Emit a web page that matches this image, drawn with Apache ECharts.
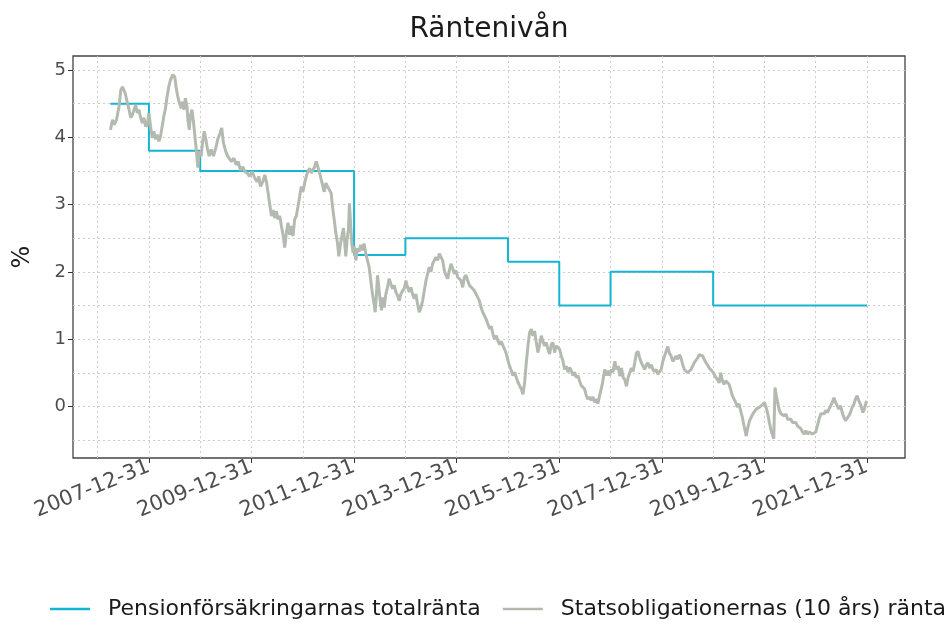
<!DOCTYPE html>
<html>
<head>
<meta charset="utf-8">
<title>Räntenivån</title>
<script src="https://cdn.jsdelivr.net/npm/echarts@6/dist/echarts.min.js"></script>
<style>
  html, body { margin: 0; padding: 0; background: #fff; }
  #chart { width: 948px; height: 626px; }
</style>
</head>
<body>
<div id="chart"></div>
<script>
// x values are decimal years (2008 = 2007-12-31)
// Pensionförsäkringarnas totalränta: the level holds from each date until the next one
const pensionYears = [2007.25, 2008, 2009, 2012, 2013, 2015, 2016, 2017, 2019, 2022];
const pensionRates = [4.5, 3.8, 3.5, 2.25, 2.5, 2.15, 1.5, 2.0, 1.5, 1.5];

// Statsobligationernas (10 års) ränta
const bondYears = [
  2007.25, 2007.29, 2007.323, 2007.368, 2007.419, 2007.452, 2007.484, 2007.535, 2007.581, 2007.613,
  2007.645, 2007.677, 2007.71, 2007.742, 2007.774, 2007.806, 2007.839, 2007.871, 2007.903, 2007.935,
  2007.968, 2008.0, 2008.032, 2008.065, 2008.097, 2008.129, 2008.161, 2008.194, 2008.226, 2008.258,
  2008.29, 2008.323, 2008.355, 2008.387, 2008.419, 2008.465, 2008.503, 2008.529, 2008.561, 2008.594,
  2008.632, 2008.658, 2008.684, 2008.71, 2008.742, 2008.761, 2008.787, 2008.806, 2008.839, 2008.871,
  2008.903, 2008.935, 2008.955, 2008.981, 2009.019, 2009.045, 2009.077, 2009.11, 2009.142, 2009.174,
  2009.213, 2009.258, 2009.303, 2009.342, 2009.387, 2009.419, 2009.452, 2009.497, 2009.535, 2009.581,
  2009.612, 2009.657, 2009.702, 2009.741, 2009.786, 2009.832, 2009.871, 2009.916, 2009.961, 2010.013,
  2010.065, 2010.11, 2010.142, 2010.175, 2010.22, 2010.259, 2010.291, 2010.324, 2010.356, 2010.388,
  2010.421, 2010.453, 2010.485, 2010.518, 2010.55, 2010.583, 2010.615, 2010.647, 2010.68, 2010.712,
  2010.744, 2010.777, 2010.809, 2010.841, 2010.874, 2010.906, 2010.939, 2010.971, 2011.003, 2011.036,
  2011.068, 2011.1, 2011.133, 2011.165, 2011.197, 2011.23, 2011.262, 2011.294, 2011.327, 2011.359,
  2011.392, 2011.417, 2011.45, 2011.482, 2011.515, 2011.553, 2011.579, 2011.612, 2011.644, 2011.676,
  2011.702, 2011.728, 2011.761, 2011.793, 2011.812, 2011.838, 2011.864, 2011.89, 2011.909, 2011.935,
  2011.955, 2011.981, 2012.0,
  2012.033, 2012.065, 2012.098, 2012.13, 2012.163, 2012.195, 2012.228, 2012.261, 2012.293, 2012.326,
  2012.358, 2012.391, 2012.41, 2012.436, 2012.456, 2012.482, 2012.508, 2012.534, 2012.56, 2012.586,
  2012.619, 2012.651, 2012.684, 2012.717, 2012.749, 2012.782, 2012.814, 2012.847, 2012.879, 2012.912,
  2012.945, 2012.977, 2013.01, 2013.042, 2013.075, 2013.107, 2013.14, 2013.173, 2013.205, 2013.238,
  2013.27, 2013.303, 2013.336, 2013.368, 2013.401, 2013.433, 2013.466, 2013.498, 2013.531, 2013.564,
  2013.596, 2013.629, 2013.661, 2013.694, 2013.726, 2013.759, 2013.792, 2013.824, 2013.857, 2013.889,
  2013.922, 2013.954, 2013.987, 2014.02, 2014.052, 2014.085, 2014.117, 2014.15, 2014.182, 2014.215,
  2014.248, 2014.28, 2014.313, 2014.345, 2014.378, 2014.41, 2014.443, 2014.476, 2014.508, 2014.541,
  2014.578, 2014.61, 2014.643, 2014.675, 2014.708, 2014.74, 2014.773, 2014.805, 2014.838, 2014.87,
  2014.903, 2014.935, 2014.968, 2015.0, 2015.032, 2015.065, 2015.097, 2015.13, 2015.162, 2015.195,
  2015.227, 2015.26, 2015.292, 2015.325, 2015.357, 2015.39, 2015.422, 2015.455, 2015.487, 2015.519,
  2015.552, 2015.584, 2015.617, 2015.649, 2015.682, 2015.714, 2015.747, 2015.779, 2015.812, 2015.844,
  2015.877, 2015.909, 2015.942, 2015.974, 2016.006, 2016.039, 2016.071, 2016.104, 2016.136, 2016.169,
  2016.201, 2016.234, 2016.266, 2016.299, 2016.331, 2016.364, 2016.396, 2016.429, 2016.461, 2016.494,
  2016.526, 2016.558, 2016.591, 2016.623, 2016.656, 2016.688, 2016.721, 2016.753, 2016.786, 2016.818,
  2016.851, 2016.883, 2016.916, 2016.948, 2016.981, 2017.013, 2017.045,
  2017.084, 2017.116, 2017.148, 2017.181, 2017.213, 2017.245, 2017.277, 2017.31, 2017.342, 2017.374,
  2017.406, 2017.439, 2017.471, 2017.503, 2017.535, 2017.568, 2017.6, 2017.632, 2017.665, 2017.697,
  2017.729, 2017.761, 2017.794, 2017.826, 2017.858, 2017.89, 2017.923, 2017.955, 2017.987, 2018.019,
  2018.052, 2018.084, 2018.116, 2018.148, 2018.181, 2018.213, 2018.245, 2018.277, 2018.31, 2018.342,
  2018.374, 2018.406, 2018.439, 2018.471, 2018.503, 2018.535, 2018.568, 2018.6, 2018.632, 2018.665,
  2018.697, 2018.729, 2018.761, 2018.794, 2018.826, 2018.858, 2018.89, 2018.923, 2018.955, 2018.987,
  2019.019, 2019.052, 2019.084, 2019.116, 2019.148, 2019.181, 2019.213, 2019.245, 2019.277, 2019.31,
  2019.342, 2019.374, 2019.406, 2019.439, 2019.471, 2019.503, 2019.535, 2019.568, 2019.6, 2019.645,
  2019.677, 2019.71, 2019.742, 2019.774, 2019.806, 2019.839, 2019.871, 2019.903, 2019.935, 2019.968,
  2020.0, 2020.032, 2020.065, 2020.097, 2020.129, 2020.161, 2020.181, 2020.206, 2020.232, 2020.258,
  2020.29, 2020.323, 2020.355, 2020.387, 2020.419, 2020.452, 2020.484, 2020.516, 2020.548, 2020.581,
  2020.613, 2020.645, 2020.677, 2020.71, 2020.742, 2020.774, 2020.806, 2020.839, 2020.871, 2020.903,
  2020.935, 2020.968, 2021.0, 2021.032, 2021.065, 2021.097, 2021.129, 2021.161, 2021.194, 2021.226,
  2021.258, 2021.29, 2021.323, 2021.355, 2021.387, 2021.419, 2021.452, 2021.484, 2021.516, 2021.548,
  2021.581, 2021.613, 2021.645, 2021.677, 2021.71, 2021.742, 2021.774, 2021.806, 2021.826, 2021.852,
  2021.884, 2021.916, 2021.948, 2021.981, 2022.0
];
const bondRates = [
  4.11, 4.26, 4.19, 4.26, 4.46, 4.70, 4.75, 4.66, 4.51, 4.41,
  4.29, 4.33, 4.41, 4.48, 4.36, 4.41, 4.29, 4.21, 4.29, 4.16,
  4.19, 4.36, 4.16, 3.99, 4.09, 3.97, 4.04, 3.94, 4.01, 4.16,
  4.31, 4.43, 4.61, 4.75, 4.85, 4.93, 4.90, 4.75, 4.61, 4.51,
  4.43, 4.53, 4.41, 4.58, 4.46, 4.26, 4.11, 4.31, 4.41, 4.21,
  3.97, 3.72, 3.55, 3.79, 3.72, 3.92, 4.09, 3.97, 3.82, 3.72,
  3.82, 3.72, 3.84, 3.97, 4.06, 4.14, 3.92, 3.79, 3.72, 3.67,
  3.64, 3.69, 3.59, 3.64, 3.51, 3.56, 3.49, 3.47, 3.42, 3.49,
  3.39, 3.34, 3.42, 3.27, 3.34, 3.44, 3.34, 3.17, 3.00, 2.83,
  2.92, 2.80, 2.90, 2.78, 2.83, 2.68, 2.55, 2.36, 2.58, 2.73,
  2.55, 2.68, 2.53, 2.78, 2.83, 2.97, 3.12, 3.27, 3.19, 3.32,
  3.42, 3.49, 3.54, 3.47, 3.51, 3.56, 3.64, 3.56, 3.47, 3.37,
  3.27, 3.19, 3.32, 3.27, 3.29, 3.17, 2.97, 2.78, 2.58, 2.43,
  2.23, 2.38, 2.53, 2.65, 2.48, 2.23, 2.48, 2.63, 3.02, 2.68,
  2.43, 2.28, 2.38,
  2.17, 2.35, 2.30, 2.40, 2.32, 2.42, 2.27, 2.17, 2.07, 1.87,
  1.67, 1.52, 1.40, 1.67, 1.95, 1.77, 1.57, 1.43, 1.62, 1.47,
  1.67, 1.77, 1.90, 1.82, 1.75, 1.80, 1.70, 1.65, 1.57, 1.67,
  1.72, 1.75, 1.87, 1.77, 1.70, 1.77, 1.67, 1.60, 1.67, 1.52,
  1.40, 1.47, 1.57, 1.72, 1.87, 1.97, 2.07, 2.00, 2.12, 2.17,
  2.22, 2.17, 2.27, 2.25, 2.17, 2.02, 1.95, 1.90, 2.02, 2.12,
  2.05, 1.97, 2.02, 1.92, 1.90, 1.87, 1.77, 1.92, 1.95, 1.87,
  1.80, 1.82, 1.75, 1.72, 1.67, 1.62, 1.57, 1.47, 1.40, 1.35,
  1.29, 1.22, 1.15, 1.19, 1.07, 1.00, 1.05, 0.97, 0.92, 0.97,
  0.90, 0.85, 0.78, 0.68, 0.60, 0.53, 0.46, 0.51, 0.43, 0.36,
  0.31, 0.26, 0.18, 0.36, 0.65, 0.90, 1.10, 1.15, 1.05, 1.12,
  0.95, 0.80, 0.92, 1.05, 0.97, 0.90, 0.95, 0.85, 0.78, 0.92,
  0.95, 0.80, 0.90, 0.92, 0.85, 0.75, 0.68, 0.55, 0.60, 0.51,
  0.58, 0.53, 0.46, 0.51, 0.43, 0.46, 0.38, 0.31, 0.33, 0.26,
  0.16, 0.11, 0.14, 0.09, 0.14, 0.06, 0.11, 0.04, 0.16, 0.26,
  0.38, 0.55, 0.46, 0.53, 0.46, 0.55, 0.51,
  0.67, 0.55, 0.60, 0.45, 0.57, 0.43, 0.40, 0.30, 0.43, 0.50,
  0.57, 0.52, 0.65, 0.79, 0.82, 0.72, 0.65, 0.60, 0.55, 0.62,
  0.65, 0.57, 0.62, 0.55, 0.52, 0.55, 0.48, 0.50, 0.55, 0.67,
  0.75, 0.82, 0.89, 0.79, 0.75, 0.67, 0.65, 0.75, 0.70, 0.77,
  0.72, 0.62, 0.55, 0.57, 0.50, 0.48, 0.55, 0.60, 0.65, 0.67,
  0.72, 0.77, 0.79, 0.75, 0.70, 0.65, 0.62, 0.57, 0.55, 0.52,
  0.48, 0.43, 0.40, 0.35, 0.50, 0.38, 0.33, 0.38, 0.40, 0.33,
  0.25, 0.16, 0.11, 0.06, -0.01, 0.04, -0.06, -0.16, -0.28, -0.44,
  -0.31, -0.21, -0.16, -0.11, -0.09, -0.04, -0.06, -0.01, 0.01, 0.03,
  0.06, -0.01, -0.11, -0.24, -0.36, -0.43, -0.48, 0.28, 0.16, 0.06,
  -0.06, -0.11, -0.09, -0.14, -0.11, -0.19, -0.21, -0.19, -0.24, -0.26,
  -0.24, -0.29, -0.31, -0.33, -0.38, -0.41, -0.36, -0.41, -0.38, -0.36,
  -0.41, -0.43, -0.38, -0.29, -0.19, -0.11, -0.09, -0.11, -0.06, -0.09,
  -0.04, 0.01, 0.06, 0.13, 0.06, 0.01, -0.04, 0.01, -0.09, -0.16,
  -0.21, -0.19, -0.14, -0.09, -0.01, 0.03, 0.11, 0.16, 0.18, 0.06,
  0.01, -0.09, -0.04, 0.06, 0.08
];

// axis ticks and labels
const xTickYears = [2008, 2010, 2012, 2014, 2016, 2018, 2020, 2022];
const xTickLabels = ['2007-12-31', '2009-12-31', '2011-12-31', '2013-12-31',
                     '2015-12-31', '2017-12-31', '2019-12-31', '2021-12-31'];
const yTicks = [0, 1, 2, 3, 4, 5];
// dotted grid: one line per year and per half percent
const xGridYears = [2007, 2008, 2009, 2010, 2011, 2012, 2013, 2014, 2015, 2016, 2017, 2018, 2019, 2020, 2021, 2022];
const yGridValues = [-0.5, 0, 0.5, 1, 1.5, 2, 2.5, 3, 3.5, 4, 4.5, 5];

const seriesNames = ['Pensionförsäkringarnas totalränta', 'Statsobligationernas (10 års) ränta'];

const fontFamily = 'DejaVu Sans';
const textColor = '#1a1a1a';
const axisTextColor = '#4d4d4d';
const chart = echarts.init(document.getElementById('chart'), null, { renderer: 'canvas' });

const gridLines = xGridYears.map(v => ({ xAxis: v })).concat(yGridValues.map(v => ({ yAxis: v })));

const option = {
  animation: false,
  backgroundColor: '#ffffff',
  textStyle: { fontFamily: fontFamily },
  title: {
    text: 'Räntenivån',
    left: 484,
    textAlign: 'center',
    top: 11,
    textStyle: { fontSize: 28, fontWeight: 'normal', color: textColor, fontFamily: fontFamily }
  },
  legend: {
    data: seriesNames,
    left: 50,
    top: 598,
    width: 1000,
    padding: 0,
    icon: 'rect',
    itemWidth: 40,
    itemHeight: 2.5,
    itemGap: 22,
    textStyle: { fontSize: 22, color: textColor, fontFamily: fontFamily, padding: [0, 0, 0, 13] }
  },
  grid: {
    left: 73, right: 43, top: 56, bottom: 168,
    show: true,
    borderColor: '#444444',
    borderWidth: 1.3,
    backgroundColor: '#ffffff',
    containLabel: false,
    outerBoundsMode: 'none'
  },
  xAxis: {
    type: 'value',
    min: 2006.52,
    max: 2022.74,
    axisLine: { show: false, onZero: false },
    axisTick: { show: true, length: 5, customValues: xTickYears, lineStyle: { color: '#333333' } },
    axisLabel: {
      customValues: xTickYears,
      rotate: 22,
      margin: 8,
      fontSize: 21,
      color: axisTextColor,
      fontFamily: fontFamily,
      formatter: v => {
        const i = xTickYears.findIndex(t => Math.abs(t - v) < 1e-6);
        return i >= 0 ? xTickLabels[i] : '';
      }
    },
    splitLine: { show: false }
  },
  yAxis: {
    type: 'value',
    min: -0.766,
    max: 5.208,
    name: '%',
    nameLocation: 'middle',
    nameRotate: 90,
    nameGap: 38,
    nameTextStyle: { fontSize: 24, color: textColor, fontFamily: fontFamily },
    axisLine: { show: false, onZero: false },
    axisTick: { show: true, length: 5, customValues: yTicks, lineStyle: { color: '#333333' } },
    axisLabel: { customValues: yTicks, margin: 7, fontSize: 18, color: axisTextColor, fontFamily: fontFamily },
    splitLine: { show: false }
  },
  series: [
    {
      name: seriesNames[0],
      type: 'line',
      step: 'end',
      symbol: 'none',
      z: 3,
      lineStyle: { color: '#14b4d2', width: 2 },
      itemStyle: { color: '#14b4d2' },
      data: pensionYears.map((y, i) => [y, pensionRates[i]]),
      markLine: {
        silent: true,
        z: 1,
        symbol: ['none', 'none'],
        label: { show: false },
        lineStyle: { color: '#cccccc', width: 1, type: [2, 3] },
        emphasis: { disabled: true },
        data: gridLines
      }
    },
    {
      name: seriesNames[1],
      type: 'line',
      symbol: 'none',
      z: 4,
      lineStyle: { color: '#b3bab0', width: 3 },
      itemStyle: { color: '#b3bab0' },
      data: bondYears.map((y, i) => [y, bondRates[i]])
    }
  ]
};

chart.setOption(option);
</script>
</body>
</html>
